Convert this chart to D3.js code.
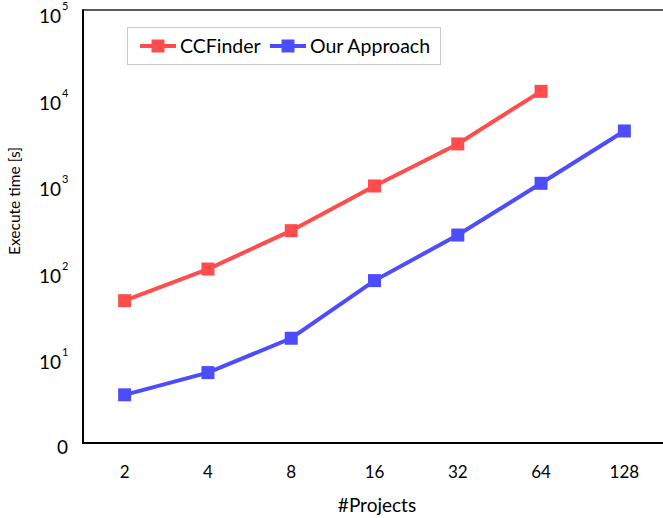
<!DOCTYPE html>
<html><head><meta charset="utf-8">
<script src="https://cdn.jsdelivr.net/npm/d3@7"></script>
<style>body{margin:0;background:#fff;} text{font-family:"Lato","Open Sans",sans-serif;fill:#000;}</style>
</head><body><svg id="c" width="663" height="518"></svg>
<script>
const projects = ["2","4","8","16","32","64","128"];
const ccfinder = [44, 102, 283, 929, 2840, 11500, null];
const ourApproach = [3.6, 6.5, 16.2, 75, 252, 997, 4010];
const yTicks = [1, 10, 100, 1000, 10000, 100000];
const seriesNames = ["CCFinder", "Our Approach"];
const colors = ["#FF4D4D", "#4D4DFF"];

const svg = d3.select("#c");
const m = {l:83, t:10, r:666, b:443};
const x = d3.scalePoint().domain(projects).range([m.l, m.r]).padding(0.5);
const y = d3.scaleLog().domain([1, 100000]).range([m.b, m.t]);

// frame
svg.append("line").attr("x1",m.l).attr("x2",m.r).attr("y1",m.t).attr("y2",m.t).attr("stroke","#222").attr("stroke-width",1.5);
svg.append("line").attr("x1",m.l).attr("x2",m.l).attr("y1",m.t-0.75).attr("y2",m.b+1).attr("stroke","#000").attr("stroke-width",2);
svg.append("line").attr("x1",m.l-1).attr("x2",m.r).attr("y1",m.b).attr("y2",m.b).attr("stroke","#000").attr("stroke-width",2);

// y ticks
const yAxis = svg.append("g");
yTicks.forEach(v => {
  const e = Math.round(Math.log10(v));
  if (e === 0) {
    yAxis.append("text").attr("x", 68).attr("y", y(v) + 11).attr("text-anchor","end").attr("font-size",19).text("0");
  } else {
    const t = yAxis.append("text").attr("x", 61).attr("y", y(v) + 13).attr("text-anchor","end").attr("font-size",19).text("10");
    yAxis.append("text").attr("x", 62).attr("y", y(v)).attr("text-anchor","start").attr("font-size",11).text(e);
  }
});

// x ticks
svg.append("g").selectAll("text").data(projects).join("text")
  .attr("x", d => x(d)).attr("y", 478).attr("text-anchor","middle").attr("font-size",17).text(d => d);

svg.append("text").attr("x",377).attr("y",512).attr("text-anchor","middle").attr("font-size",19).text("#Projects");
svg.append("text").attr("transform","translate(20,201) rotate(-90)").attr("text-anchor","middle").attr("font-size",15.5).text("Execute time [s]");

// series
const data = [ccfinder, ourApproach];
const line = d3.line().defined(d => d.v != null).x(d => x(d.p)).y(d => y(d.v));
data.forEach((s, i) => {
  const pts = s.map((v, j) => ({p: projects[j], v}));
  svg.append("path").datum(pts).attr("d", line).attr("fill","none").attr("stroke",colors[i]).attr("stroke-width",4);
  svg.append("g").selectAll("rect").data(pts.filter(d => d.v != null)).join("rect")
    .attr("x", d => x(d.p) - 6.5).attr("y", d => y(d.v) - 6.5).attr("width",13).attr("height",13).attr("fill",colors[i]);
});

// legend
const lg = svg.append("g");
lg.append("rect").attr("x",127.5).attr("y",27.5).attr("width",313).attr("height",37).attr("fill","#fff").attr("stroke","#c8c8c8").attr("stroke-width",1);
const lx = [140, 270];
seriesNames.forEach((n, i) => {
  lg.append("line").attr("x1",lx[i]).attr("x2",lx[i]+36).attr("y1",46).attr("y2",46).attr("stroke",colors[i]).attr("stroke-width",4);
  lg.append("rect").attr("x",lx[i]+18-6.5).attr("y",46-6.5).attr("width",13).attr("height",13).attr("fill",colors[i]);
  lg.append("text").attr("x",lx[i]+40).attr("y",53).attr("font-size",19.5).text(n);
});
</script></body></html>
